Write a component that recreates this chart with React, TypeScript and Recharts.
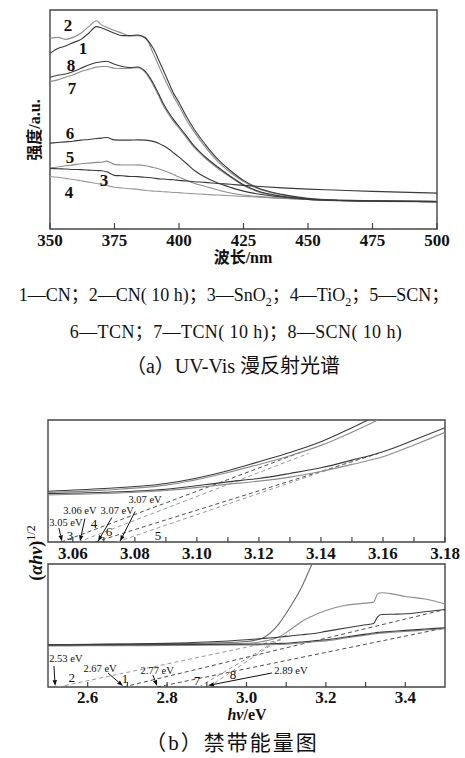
import React from 'react';
import { LineChart, Line, XAxis, YAxis, ReferenceDot, ReferenceLine, ReferenceArea } from 'recharts';

const SERIF = '"Liberation Serif", "DejaVu Serif", "Noto Sans CJK SC", serif';
const INK = '#111';
const FRAME = '#444';
const DARK = '#3a3a3a';
const GREY = '#8c8c8c';

// (a) UV-Vis 漫反射光谱
const wavelength = [350, 353, 356, 359, 362, 365, 368, 370, 372, 375, 378, 381, 384, 387, 390, 392, 394, 396, 398, 400, 403, 406, 410, 415, 420, 425, 430, 440, 450, 460, 475, 500];
const uvCN = [80.2, 82.4, 83.6, 85.1, 86.6, 89.4, 92.4, 91.8, 90.9, 89.4, 88.3, 88.3, 88.6, 87.1, 82.5, 77.5, 72.3, 66.9, 61.7, 57.8, 51.1, 45.3, 38.9, 31.9, 26.6, 22.2, 19.1, 15.8, 14.0, 13.1, 12.8, 12.5];
const uvCN10 = [87.1, 87.5, 86.6, 87.5, 89.4, 92.4, 95.1, 93.2, 92.1, 90.6, 89.4, 88.1, 88.3, 87.5, 80.2, 74.9, 69.6, 64.7, 60.2, 56.2, 49.5, 44.1, 37.7, 30.9, 25.8, 21.7, 18.7, 15.5, 13.8, 13.4, 12.9, 12.6];
const uvSnO2 = [27.7, 27.5, 27.4, 27.2, 27.1, 26.9, 26.7, 26.6, 26.1, 24.5, 24.3, 24.0, 23.9, 23.6, 23.3, 22.9, 22.8, 22.6, 22.5, 22.2, 21.9, 21.6, 21.3, 20.8, 20.4, 19.9, 19.5, 18.8, 18.2, 17.8, 17.2, 16.4];
const uvTiO2 = [24.0, 23.6, 23.1, 22.6, 22.0, 21.4, 20.8, 20.4, 19.9, 19.1, 18.7, 18.4, 18.1, 17.6, 17.3, 17.2, 17.0, 16.9, 16.7, 16.6, 16.3, 16.1, 15.8, 15.5, 15.2, 14.9, 14.6, 14.0, 13.5, 13.2, 12.9, 12.6];
const uvSCN = [27.8, 28.3, 28.9, 29.3, 29.8, 30.1, 30.4, 30.5, 31.0, 29.5, 29.2, 29.2, 29.3, 28.9, 28.1, 27.5, 26.7, 25.8, 24.8, 23.7, 22.2, 20.8, 19.5, 17.8, 16.4, 15.5, 14.9, 14.1, 13.5, 13.1, 12.8, 12.5];
const uvTCN = [39.2, 39.5, 39.8, 40.1, 40.6, 40.9, 41.3, 41.5, 41.8, 40.7, 40.6, 40.6, 40.7, 40.6, 40.0, 39.2, 38.0, 36.5, 34.7, 32.8, 29.8, 26.7, 23.7, 21.0, 19.0, 17.3, 16.1, 14.6, 13.7, 13.1, 12.8, 12.5];
const uvTCN10 = [67.3, 68.1, 69.3, 70.4, 71.9, 72.9, 73.9, 74.2, 74.2, 73.4, 73.3, 73.4, 73.6, 71.4, 65.8, 61.1, 56.2, 52.3, 48.9, 46.1, 41.5, 37.1, 32.5, 27.7, 23.6, 19.9, 17.3, 14.7, 13.5, 12.9, 12.6, 12.3];
const uvSCN10 = [69.3, 70.2, 70.8, 71.9, 73.4, 74.9, 76.0, 76.4, 76.6, 75.2, 74.2, 73.7, 74.0, 71.9, 66.6, 62.0, 57.1, 53.2, 49.8, 46.8, 42.3, 37.7, 33.1, 28.3, 24.0, 20.2, 17.6, 14.9, 13.5, 13.1, 12.8, 12.5];
const uvTicks = [350, 375, 400, 425, 450, 475, 500];
const uvNotes = [
  { text: '2', x: 357.0, y: 93.2 },
  { text: '1', x: 362.8, y: 82.6 },
  { text: '8', x: 358.1, y: 74.9 },
  { text: '7', x: 358.5, y: 64.4 },
  { text: '6', x: 357.8, y: 43.8 },
  { text: '5', x: 357.8, y: 32.9 },
  { text: '3', x: 370.9, y: 22.4 },
  { text: '4', x: 357.4, y: 16.9 },
];

// (b) 禁带能量图, upper panel (samples 3-6)
const energyHigh = [3.052, 3.07, 3.09, 3.11, 3.12, 3.13, 3.14, 3.15, 3.16, 3.17, 3.18];
const taucSnO2 = [41.6, 43.8, 47.9, 58.4, 65.8, 73.4, 82.2, 93.7, 106, null, null];
const taucTiO2 = [40.5, 42.5, 46.6, 57.0, 63.6, 70.7, 79.2, 90.0, 102, null, null];
const taucTCN = [39.7, 40.8, 43.3, 49.3, 52.1, 56.2, 60.8, 67.1, 74.0, 83.6, 93.7];
const taucSCN = [38.6, 39.7, 42.2, 47.4, 49.9, 53.2, 57.8, 63.6, 69.9, 79.5, 89.9];
const highTicks = [3.06, 3.07, 3.08, 3.09, 3.1, 3.11, 3.12, 3.13, 3.14, 3.15, 3.16, 3.17, 3.18];
const highTangents = [
  { x: [3.0563, 3.134], y: [0, 74], color: DARK },
  { x: [3.0618, 3.136], y: [0, 72.6], color: GREY },
  { x: [3.0672, 3.1585], y: [0, 72.6], color: DARK },
  { x: [3.0742, 3.153], y: [0, 68.5], color: GREY },
];
const highNotes = [
  { text: '3.05 eV', x: 3.0578, y: 15.8, small: true },
  { text: '3.06 eV', x: 3.0623, y: 26.2, small: true },
  { text: '3.07 eV', x: 3.0743, y: 26.2, small: true },
  { text: '3.07 eV', x: 3.0833, y: 34.8, small: true },
  { text: '3', x: 3.0591, y: 5.2 },
  { text: '4', x: 3.0668, y: 14.8 },
  { text: '6', x: 3.0717, y: 9.0 },
  { text: '5', x: 3.0875, y: 5.7 },
];
const highPointers = [
  { from: [3.0555, 11.5], to: [3.0565, 0.5] },
  { from: [3.0639, 19.3], to: [3.0623, 0.5] },
  { from: [3.0726, 20.1], to: [3.0681, 0.5] },
  { from: [3.0801, 25.0], to: [3.0752, 0.5] },
];

// (b) lower panel (samples 1, 2, 7, 8)
const energyLow = [2.5, 2.6, 2.7, 2.8, 2.9, 3.0, 3.04, 3.08, 3.11, 3.14, 3.165, 3.2, 3.25, 3.3, 3.32, 3.33, 3.34, 3.37, 3.4, 3.45, 3.5];
const taucSteep = [34.5, 34.7, 35.0, 35.2, 35.6, 37.0, 39.7, 50.7, 65, 82, 100, 125, null, null, null, null, null, null, null, null, null];
const taucBump = [34.0, 34.2, 34.4, 34.6, 35.0, 35.6, 37.0, 40.4, 46.5, 53.5, 57.6, 62.2, 66.4, 68.2, 69.0, 75.5, 76.6, 75.5, 73.6, 71.5, 67.5];
const taucStep = [34.2, 34.5, 34.9, 35.5, 36.6, 38.4, 39.4, 40.5, 41.5, 42.5, 43.3, 45.2, 48.0, 50.6, 51.6, 57.0, 58.9, 59.2, 59.5, 61.2, 63.0];
const taucFlatA = [34.2, 34.2, 34.3, 34.4, 34.6, 34.8, 35.0, 35.4, 35.8, 36.6, 37.4, 38.4, 40.6, 43.0, 43.9, 44.4, 44.6, 45.3, 46.0, 47.1, 48.2];
const taucFlatB = [33.4, 33.5, 33.6, 33.7, 33.9, 34.1, 34.3, 34.6, 35.0, 35.8, 36.6, 37.5, 39.8, 42.2, 43.1, 43.6, 43.8, 44.5, 45.2, 46.3, 47.4];
const lowTicks = [2.6, 2.7, 2.8, 2.9, 3.0, 3.1, 3.2, 3.3, 3.4];
const lowTangents = [
  { x: [2.525, 3.09], y: [0, 38.5], color: GREY },
  { x: [2.69, 3.5], y: [0, 63], color: DARK },
  { x: [2.775, 3.5], y: [0, 48], color: DARK },
  { x: [2.88, 3.11], y: [0, 44], color: GREY },
  { x: [2.905, 3.08], y: [0, 38], color: GREY },
];
const lowNotes = [
  { text: '2.53 eV', x: 2.545, y: 23.6, small: true },
  { text: '2.67 eV', x: 2.631, y: 15.4, small: true },
  { text: '2.77 eV', x: 2.775, y: 13.8, small: true },
  { text: '2.89 eV', x: 3.112, y: 13.8, small: true },
  { text: '2', x: 2.56, y: 8.1 },
  { text: '1', x: 2.694, y: 7.3 },
  { text: '7', x: 2.875, y: 5.7 },
  { text: '8', x: 2.966, y: 9.8 },
];
const lowPointers = [
  { from: [2.515, 17.1], to: [2.518, 0.8] },
  { from: [2.651, 11.4], to: [2.689, 0.8] },
  { from: [2.764, 9.8], to: [2.775, 0.8] },
  { from: [3.064, 11.4], to: [2.903, 1.2] },
];

type Series = { key: string; values: (number | null)[]; color: string };

function rows(xs: number[], series: Series[]) {
  return xs.map((x, i) => {
    const r: Record<string, number | null> = { x };
    series.forEach((s) => (r[s.key] = s.values[i]));
    return r;
  });
}

function InTick(props: any) {
  const { x, y, len, gap, show, text, size } = props;
  return (
    <g>
      <line x1={x} x2={x} y1={y} y2={y - len} stroke={FRAME} strokeWidth={1.2} />
      {show && (
        <text x={x} y={y + gap} dy="0.35em" textAnchor="middle" fontFamily={SERIF} fontWeight="bold" fontSize={size} fill={INK}>
          {text}
        </text>
      )}
    </g>
  );
}

function Arrow(props: any) {
  const { x1, y1, x2, y2 } = props;
  const a = Math.atan2(y2 - y1, x2 - x1);
  const L = 6;
  const W = 2.2;
  const bx = x2 - L * Math.cos(a);
  const by = y2 - L * Math.sin(a);
  const pts = `${x2},${y2} ${bx + W * Math.sin(a)},${by - W * Math.cos(a)} ${bx - W * Math.sin(a)},${by + W * Math.cos(a)}`;
  return (
    <g>
      <line x1={x1} y1={y1} x2={bx} y2={by} stroke={INK} strokeWidth={1} />
      <polygon points={pts} fill={INK} />
    </g>
  );
}

function Panel(props: any) {
  const {
    top, height, marginLeft, marginRight, axisHeight, xDomain, xs, series, ticks, tickLen, gap,
    isMajor, fmt, tangents = [], notes = [], pointers = [], noteSize, smallSize, curve,
  } = props;
  const data = rows(xs, series);
  return (
    <div style={{ position: 'absolute', left: 0, top }}>
      <LineChart width={465} height={height} data={data} margin={{ top: 10, right: marginRight, bottom: 0, left: marginLeft }}>
        <XAxis
          dataKey="x"
          type="number"
          domain={xDomain}
          allowDataOverflow
          ticks={ticks}
          interval={0}
          height={axisHeight}
          tickSize={0}
          tickMargin={0}
          tickLine={false}
          axisLine={false}
          tick={(p: any) => (
            <InTick {...p} len={tickLen} gap={gap} size={17} show={isMajor(p.payload.value)} text={fmt(p.payload.value)} />
          )}
        />
        <YAxis hide type="number" domain={[0, 100]} allowDataOverflow />
        {tangents.map((t: any, i: number) => (
          <Line
            key={'tan' + i}
            data={t.x.map((x: number, j: number) => ({ x, y: t.y[j] }))}
            dataKey="y"
            type="linear"
            stroke={t.color}
            strokeWidth={0.9}
            strokeDasharray="4 3"
            dot={false}
            isAnimationActive={false}
          />
        ))}
        {series.map((s: Series) => (
          <Line key={s.key} dataKey={s.key} type={curve} stroke={s.color} strokeWidth={1.1} dot={false} isAnimationActive={false} />
        ))}
        <ReferenceArea x1={xDomain[0]} x2={xDomain[1]} y1={0} y2={100} fill="none" stroke={FRAME} strokeWidth={1.4} ifOverflow="visible" />
        {pointers.map((p: any, i: number) => (
          <ReferenceLine
            key={'ptr' + i}
            segment={[{ x: p.from[0], y: p.from[1] }, { x: p.to[0], y: p.to[1] }]}
            shape={(sp: any) => <Arrow {...sp} />}
          />
        ))}
        {notes.map((n: any, i: number) => (
          <ReferenceDot
            key={'note' + i}
            x={n.x}
            y={n.y}
            r={0}
            shape={(sp: any) => (
              <text
                x={sp.cx}
                y={sp.cy}
                dy="0.35em"
                textAnchor="middle"
                fontFamily={SERIF}
                fontSize={n.small ? smallSize : noteSize}
                fontWeight={props.boldNotes && !n.small ? 'bold' : 'normal'}
                fill={INK}
              >
                {n.text}
              </text>
            )}
          />
        ))}
      </LineChart>
    </div>
  );
}

function Caption({ x, y, size = 17, bold = false, rotate = 0, spacing = 0, children }: any) {
  return (
    <div
      style={{
        position: 'absolute',
        left: x,
        top: y,
        transform: `translate(-50%, -50%) rotate(${rotate}deg)`,
        whiteSpace: 'nowrap',
        fontSize: size,
        fontWeight: bold ? 'bold' : 'normal',
        letterSpacing: spacing,
        lineHeight: 1,
      }}
    >
      {children}
    </div>
  );
}

export default function App() {
  const uvSeries: Series[] = [
    { key: 'tio2', values: uvTiO2, color: '#9a9a9a' },
    { key: 'scn', values: uvSCN, color: GREY },
    { key: 'tcn10', values: uvTCN10, color: GREY },
    { key: 'cn10', values: uvCN10, color: GREY },
    { key: 'sno2', values: uvSnO2, color: DARK },
    { key: 'tcn', values: uvTCN, color: DARK },
    { key: 'scn10', values: uvSCN10, color: DARK },
    { key: 'cn', values: uvCN, color: DARK },
  ];
  const highSeries: Series[] = [
    { key: 'tio2', values: taucTiO2, color: GREY },
    { key: 'scn', values: taucSCN, color: GREY },
    { key: 'sno2', values: taucSnO2, color: DARK },
    { key: 'tcn', values: taucTCN, color: DARK },
  ];
  const lowSeries: Series[] = [
    { key: 'bump', values: taucBump, color: GREY },
    { key: 'flatB', values: taucFlatB, color: GREY },
    { key: 'steep', values: taucSteep, color: '#6a6a6a' },
    { key: 'step', values: taucStep, color: DARK },
    { key: 'flatA', values: taucFlatA, color: DARK },
  ];
  const sub = { fontSize: 12 };

  return (
    <div style={{ position: 'absolute', left: 0, top: 0, width: 465, height: 758, background: '#fff', fontFamily: SERIF, color: INK }}>
      <Panel
        top={0}
        height={270}
        marginLeft={50}
        marginRight={28}
        axisHeight={41}
        xDomain={[350, 500]}
        xs={wavelength}
        series={uvSeries}
        ticks={uvTicks}
        tickLen={6}
        gap={11}
        isMajor={() => true}
        fmt={(v: number) => String(v)}
        notes={uvNotes}
        noteSize={17}
        boldNotes
        curve="monotone"
      />
      <Caption x={35} y={130} size={16} bold rotate={-90}>强度/a.u.</Caption>
      <Caption x={243} y={258} size={16} bold>波长/nm</Caption>
      <Caption x={234} y={297} size={18}>
        1—CN；2—CN( 10 h)；3—SnO<sub style={sub}>2</sub>；4—TiO<sub style={sub}>2</sub>；5—SCN；
      </Caption>
      <Caption x={236} y={332} size={18} spacing={0.4}>6—TCN；7—TCN( 10 h)；8—SCN( 10 h)</Caption>
      <Caption x={233} y={366} size={20}>（a）UV-Vis 漫反射光谱</Caption>

      <Panel
        top={410}
        height={155}
        marginLeft={48}
        marginRight={20}
        axisHeight={23}
        xDomain={[3.052, 3.18]}
        xs={energyHigh}
        series={highSeries}
        ticks={highTicks}
        tickLen={5}
        gap={11}
        isMajor={(v: number) => Math.round(v * 100) % 2 === 0}
        fmt={(v: number) => v.toFixed(2)}
        tangents={highTangents}
        notes={highNotes}
        pointers={highPointers}
        noteSize={13}
        smallSize={10.5}
        curve="monotone"
      />
      <Panel
        top={554}
        height={170}
        marginLeft={48}
        marginRight={20}
        axisHeight={37}
        xDomain={[2.5, 3.5]}
        xs={energyLow}
        series={lowSeries}
        ticks={lowTicks}
        tickLen={5}
        gap={10}
        isMajor={(v: number) => Math.round(v * 10) % 2 === 0}
        fmt={(v: number) => v.toFixed(1)}
        tangents={lowTangents}
        notes={lowNotes}
        pointers={lowPointers}
        noteSize={13}
        smallSize={10.5}
        curve="monotone"
      />
      <Caption x={35} y={553} size={18} bold rotate={-90}>
        (<i>αhν</i>)<sup style={{ fontSize: 12, fontWeight: 'normal' }}>1/2</sup>
      </Caption>
      <Caption x={247} y={715} size={16} bold>
        <i>hν</i>/eV
      </Caption>
      <Caption x={232} y={743} size={21} spacing={2}>（b）禁带能量图</Caption>
    </div>
  );
}
